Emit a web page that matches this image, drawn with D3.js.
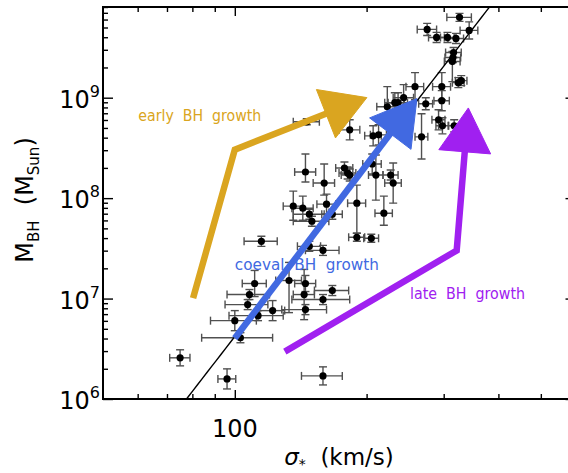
<!DOCTYPE html>
<html><head><meta charset="utf-8">
<script src="https://cdn.jsdelivr.net/npm/d3@7"></script>
<style>
html,body{margin:0;padding:0;background:#fff;}
svg{display:block;font-family:"DejaVu Sans",sans-serif;}
</style></head>
<body><svg id="c" width="568" height="473"></svg>
<script>
// ---- data ----
const sigma    = [326,275,343,289,306,320,316,315,314,324,329,258,297,243,232,236,223,273,297,292,298,317,183,207,213,267,146,145,160,178,181,183,206,210,227,230,190,219,190,205,136,143,162,148,150,167,115,148,159,133,145,144,167,159,111,108,107,122,145,113,100,103,75,96,159];
const sigmaErr = [21,14,16,12,11,13,13,13,13,10,10,12,14,13,12,12,12,10,12,10,10,10,10,9,9,9,10,8,9,8,8,8,10,8,9,10,9,10,8,8,7,8,8,12,14,9,10,9,14,9,8,8,15,24,7,12,12,8,17,16,12,19,4,4.5,17];
const logMbh   = [9.80,9.68,9.67,9.60,9.60,9.59,9.45,9.40,9.36,9.15,9.17,9.11,9.11,9.00,8.95,8.95,8.91,8.94,8.97,8.78,8.72,8.72,8.68,8.62,8.63,8.61,8.76,8.26,8.15,8.30,8.25,8.23,8.34,8.23,8.23,8.15,7.95,7.85,7.61,7.60,7.92,7.90,7.94,7.84,7.77,7.84,7.57,7.52,7.48,7.18,7.15,7.04,7.08,6.99,7.15,7.04,6.94,6.88,6.89,6.83,6.78,6.61,6.41,6.20,6.23];
const logMErrLo= [0.04,0.06,0.085,0.05,0.05,0.05,0.05,0.05,0.2,0.05,0.05,0.13,0.13,0.13,0.1,0.1,0.2,0.06,0.1,0.1,0.08,0.06,0.1,0.1,0.1,0.22,0.03,0.1,0.12,0.06,0.06,0.06,0.1,0.25,0.05,0.2,0.3,0.12,0.04,0.04,0.14,0.12,0.1,0.05,0.05,0.05,0.05,0.05,0.05,0.32,0.08,0.25,0.05,0.05,0.13,0.05,0.05,0.1,0.05,0.05,0.1,0.05,0.08,0.1,0.09];
const logMErrHi= [0.04,0.06,0.085,0.05,0.05,0.05,0.05,0.05,0.1,0.05,0.05,0.14,0.14,0.13,0.1,0.1,0.2,0.06,0.1,0.1,0.08,0.06,0.1,0.1,0.1,0.23,0.03,0.18,0.19,0.06,0.06,0.06,0.1,0.2,0.05,0.2,0.18,0.17,0.04,0.04,0.15,0.12,0.1,0.05,0.05,0.05,0.05,0.05,0.05,0.18,0.08,0.25,0.05,0.05,0.13,0.05,0.05,0.1,0.05,0.05,0.1,0.05,0.08,0.1,0.09];

// M-sigma relation (McConnell & Ma 2013): log M = a + b log(sigma/200)
const fitA = 8.32, fitB = 5.64;

// axis ticks
const xMajorTicks = [100];
const xMinorTicks = [60,70,80,90,200,300,400,500];
const xTickLabels = ["100"];
const yMajorExp = [6,7,8,9];

// growth-path annotations: [sigma, logM] vertices, last = arrow tip
const arrows = [
  {name:"early", color:"#DAA520", pts:[[80.3,7.004],[100,8.483],[200.3,9.001]],
   label:"early  BH  growth", at:[83.2,8.822], len:123},
  {name:"coeval", color:"#4169E1", pts:[[100,6.605],[260.6,8.991]],
   label:"coeval  BH  growth", at:[146.1,7.336], len:144},
  {name:"late", color:"#A020F0", pts:[[130.1,6.472],[321.2,7.479],[341.5,8.898]],
   label:"late  BH  growth", at:[340,7.047], len:115}
];

// ---- drawing ----
const svg = d3.select("#c");
const L = 103, R = 575.5, T = 7, B = 399;
const x = d3.scaleLog().domain([50, 600]).range([L, R]);
const y = d3.scaleLog().domain([1e6, 8e9]).range([B, T]);

svg.append("rect").attr("width",568).attr("height",473).attr("fill","#fff");
svg.append("defs").append("clipPath").attr("id","pa")
  .append("rect").attr("x",L).attr("y",T).attr("width",R-L).attr("height",B-T);

const plot = svg.append("g").attr("clip-path","url(#pa)");

// error bars
const ebColor = "#505050", cap = 4;
const eb = plot.append("g").attr("stroke",ebColor).attr("stroke-width",1.4).attr("fill","none");
sigma.forEach((s,i)=>{
  const cx = x(s), cy = y(Math.pow(10,logMbh[i]));
  const x0 = x(s - sigmaErr[i]), x1 = x(s + sigmaErr[i]);
  const y0 = y(Math.pow(10,logMbh[i]-logMErrLo[i])), y1 = y(Math.pow(10,logMbh[i]+logMErrHi[i]));
  eb.append("line").attr("x1",x0).attr("x2",x1).attr("y1",cy).attr("y2",cy);
  eb.append("line").attr("x1",x0).attr("x2",x0).attr("y1",cy-cap).attr("y2",cy+cap);
  eb.append("line").attr("x1",x1).attr("x2",x1).attr("y1",cy-cap).attr("y2",cy+cap);
  eb.append("line").attr("x1",cx).attr("x2",cx).attr("y1",y0).attr("y2",y1);
  eb.append("line").attr("x1",cx-cap).attr("x2",cx+cap).attr("y1",y0).attr("y2",y0);
  eb.append("line").attr("x1",cx-cap).attr("x2",cx+cap).attr("y1",y1).attr("y2",y1);
});
plot.append("g").selectAll("circle").data(sigma).join("circle")
  .attr("cx",(s)=>x(s)).attr("cy",(s,i)=>y(Math.pow(10,logMbh[i]))).attr("r",3.6).attr("fill","#000");

// fit line
const fitS = d3.range(0,101).map(k=>50*Math.pow(12,k/100));
plot.append("path").datum(fitS)
  .attr("d", d3.line().x(s=>x(s)).y(s=>y(Math.pow(10, fitA + fitB*Math.log10(s/200)))))
  .attr("fill","none").attr("stroke","#000").attr("stroke-width",1.4);

// arrows
const headLen = 44, headHalf = 26, lw = 6.5;
arrows.forEach(a=>{
  const P = a.pts.map(p=>[x(p[0]), y(Math.pow(10,p[1]))]);
  const tip = P[P.length-1], prev = P[P.length-2];
  const dx = tip[0]-prev[0], dy = tip[1]-prev[1], d = Math.hypot(dx,dy);
  const ux = dx/d, uy = dy/d, nx = -uy, ny = ux;
  const base = [tip[0]-ux*headLen, tip[1]-uy*headLen];
  const linePts = P.slice(0,-1).concat([[base[0]+ux*2, base[1]+uy*2]]);
  svg.append("path").attr("d", d3.line()(linePts)).attr("fill","none")
    .attr("stroke",a.color).attr("stroke-width",lw).attr("stroke-linejoin","miter");
  svg.append("path").attr("d", d3.line()([tip,[base[0]+nx*headHalf, base[1]+ny*headHalf],[base[0]-nx*headHalf, base[1]-ny*headHalf]])+"Z")
    .attr("fill",a.color).attr("stroke",a.color).attr("stroke-width",1).attr("stroke-linejoin","round");
  svg.append("text").attr("x",x(a.at[0])).attr("y",y(Math.pow(10,a.at[1]))+5.5)
    .attr("text-anchor","middle").attr("font-size",15).attr("fill",a.color)
    .attr("textLength",a.len).attr("lengthAdjust","spacingAndGlyphs")
    .style("white-space","pre").text(a.label);
});

// frame
const fr = svg.append("g").attr("stroke","#000").attr("stroke-width",2).attr("fill","none");
fr.append("line").attr("x1",L).attr("x2",L).attr("y1",T-1).attr("y2",B+1);
fr.append("line").attr("x1",R).attr("x2",R).attr("y1",T-1).attr("y2",B+1);
fr.append("line").attr("x1",L-1).attr("x2",R+1).attr("y1",T).attr("y2",T);
fr.append("line").attr("x1",L-1).attr("x2",R+1).attr("y1",B).attr("y2",B);

// ticks via d3 axes (inward)
function styleAx(g){ g.select(".domain").remove(); g.selectAll("line").attr("stroke","#000").attr("stroke-width",1.4); g.selectAll("text").remove(); }
const yMinor = [];
yMajorExp.forEach(e=>{ for(let m=2;m<=9;m++){ const v=m*Math.pow(10,e); if(v<=8e9) yMinor.push(v);} });
const yMajor = yMajorExp.map(e=>Math.pow(10,e));
svg.append("g").attr("transform",`translate(${L},0)`).call(d3.axisLeft(y).tickValues(yMajor).tickSize(-10)).call(styleAx);
svg.append("g").attr("transform",`translate(${L},0)`).call(d3.axisLeft(y).tickValues(yMinor).tickSize(-5)).call(styleAx);
svg.append("g").attr("transform",`translate(${R},0)`).call(d3.axisRight(y).tickValues(yMajor).tickSize(-10)).call(styleAx);
svg.append("g").attr("transform",`translate(${R},0)`).call(d3.axisRight(y).tickValues(yMinor).tickSize(-5)).call(styleAx);
svg.append("g").attr("transform",`translate(0,${B})`).call(d3.axisBottom(x).tickValues(xMajorTicks).tickSize(-9)).call(styleAx);
svg.append("g").attr("transform",`translate(0,${B})`).call(d3.axisBottom(x).tickValues(xMinorTicks).tickSize(-5)).call(styleAx);
svg.append("g").attr("transform",`translate(0,${T})`).call(d3.axisTop(x).tickValues(xMajorTicks).tickSize(-9)).call(styleAx);
svg.append("g").attr("transform",`translate(0,${T})`).call(d3.axisTop(x).tickValues(xMinorTicks).tickSize(-5)).call(styleAx);

// tick labels
yMajorExp.forEach(e=>{
  const t = svg.append("text").attr("x",L-3).attr("y",y(Math.pow(10,e))+10).attr("text-anchor","end").attr("font-size",24).attr("fill","#000");
  t.append("tspan").text("10");
  t.append("tspan").attr("font-size",16).attr("dy",-11).text(String(e));
});
xMajorTicks.forEach((v,i)=>{
  svg.append("text").attr("x",x(v)).attr("y",437).attr("text-anchor","middle").attr("font-size",24).attr("fill","#000").text(xTickLabels[i]);
});

// axis titles
const xt = svg.append("text").attr("x",339).attr("y",465).attr("text-anchor","middle").attr("font-size",23).attr("fill","#000").style("white-space","pre");
xt.append("tspan").attr("font-style","italic").text("σ");
xt.append("tspan").attr("font-size",14).attr("dy",4).text("*");
xt.append("tspan").attr("dy",-4).text("  (km/s)");

const yt = svg.append("text").attr("transform","translate(33,200) rotate(-90)").attr("text-anchor","middle").attr("font-size",24).attr("fill","#000").style("white-space","pre");
yt.append("tspan").text("M");
yt.append("tspan").attr("font-size",15).attr("dy",6).text("BH");
yt.append("tspan").attr("dy",-6).text("  (M");
yt.append("tspan").attr("font-size",15).attr("dy",6).text("Sun");
yt.append("tspan").attr("dy",-6).text(")");
</script></body></html>
